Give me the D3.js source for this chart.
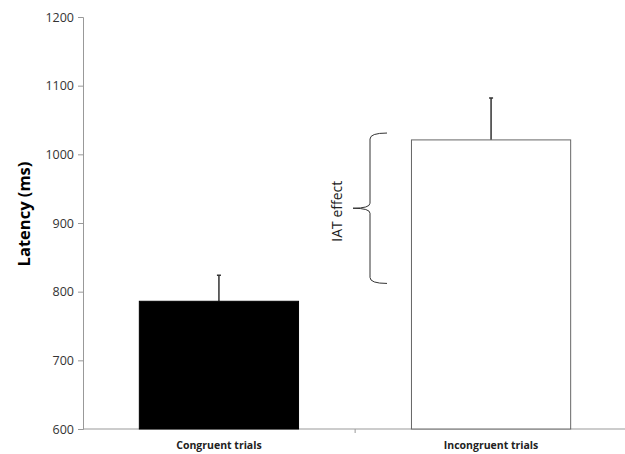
<!doctype html>
<html lang="en">
  <head>
    <meta charset="utf-8">
    <style>
        body { margin: 0; background: white; }
        text { font-family: "Open Sans", sans-serif; }
    </style>
    <title>IAT latency</title>
    <script src="https://d3js.org/d3.v7.min.js"></script>
  </head>
  <body>
    <div id='chart'></div>
    <script type="text/javascript">
    // Data
    var categories = ['Congruent trials', 'Incongruent trials'];
    var latency = [786, 1021];
    var errors = [38, 61];
    var yTicks = [600, 700, 800, 900, 1000, 1100, 1200];
    var braceRange = [812, 1031];

    var svg = d3.select('#chart')
        .append('svg')
        .attr('width', 625)
        .attr('height', 454);

    // Set up scales
    var scale_x = d3.scaleBand().domain(categories).range([83, 627]).paddingInner(0.415).paddingOuter(0.207);
    var scale_y = d3.scaleLinear().domain([600, 1200]).range([429, 17]);

    // y axis
    var yAxis = svg.append('g')
        .attr('transform', 'translate(83,0)')
        .call(d3.axisLeft(scale_y).tickValues(yTicks).tickFormat(d3.format('d')).tickSize(5).tickPadding(4));
    yAxis.select('.domain').attr('stroke', '#999');
    yAxis.selectAll('.tick line').attr('stroke', '#999');
    yAxis.selectAll('.tick text').style('font-size', '12.5px').attr('fill', '#333');

    // x axis: one tick between the categories
    var xAxis = svg.append('g')
        .attr('transform', 'translate(0,429)');
    xAxis.append('line')
        .attr('x1', 83).attr('x2', 627)
        .attr('stroke', '#999');
    xAxis.append('line')
        .attr('x1', scale_x.step() + 83).attr('x2', scale_x.step() + 83)
        .attr('y1', 0).attr('y2', 4)
        .attr('stroke', '#999');
    xAxis.selectAll('.xlab')
        .data(categories)
        .enter().append('text')
        .attr('x', function(d) { return scale_x(d) + scale_x.bandwidth() / 2; })
        .attr('y', 20)
        .attr('text-anchor', 'middle')
        .style('font-size', '10.5px')
        .style('font-weight', 'bold')
        .attr('fill', '#222')
        .text(function(d) { return d; });

    // y label
    svg.append('text')
        .attr('transform', 'translate(30,214)rotate(-90)')
        .attr('text-anchor', 'middle')
        .style('font-size', '16.5px')
        .style('font-weight', 'bold')
        .text('Latency (ms)');

    // error bars (drawn first so the bar top covers the base)
    svg.selectAll('.err')
        .data(categories)
        .enter().append('path')
        .attr('d', function(d, i) {
            var cx = scale_x(d) + scale_x.bandwidth() / 2;
            var top = scale_y(latency[i] + errors[i]);
            return 'M' + cx + ',' + scale_y(latency[i]) + 'V' + top + 'M' + (cx - 2) + ',' + top + 'H' + (cx + 2);
        })
        .attr('stroke', '#333')
        .attr('stroke-width', 1.5)
        .attr('fill', 'none');

    // bars
    svg.selectAll('.bar')
        .data(categories)
        .enter().append('rect')
        .attr('x', function(d) { return scale_x(d); })
        .attr('y', function(d, i) { return scale_y(latency[i]); })
        .attr('width', scale_x.bandwidth())
        .attr('height', function(d, i) { return scale_y(600) - scale_y(latency[i]); })
        .attr('fill', function(d, i) { return i === 0 ? 'black' : 'white'; })
        .attr('stroke', function(d, i) { return i === 0 ? 'black' : '#666'; })
        .attr('stroke-width', 1);

    // IAT effect brace
    var by0 = scale_y(braceRange[1]), by1 = scale_y(braceRange[0]);
    var bm = (by0 + by1) / 2;
    var bx = 370;
    svg.append('path')
        .attr('d', 'M' + (bx + 17) + ',' + by0 +
            'Q' + bx + ',' + by0 + ' ' + bx + ',' + (by0 + 6) +
            'V' + (bm - 5) +
            'Q' + bx + ',' + bm + ' ' + (bx - 17) + ',' + bm +
            'Q' + bx + ',' + bm + ' ' + bx + ',' + (bm + 5) +
            'V' + (by1 - 6) +
            'Q' + bx + ',' + by1 + ' ' + (bx + 17) + ',' + by1)
        .attr('fill', 'none')
        .attr('stroke', '#333')
        .attr('stroke-width', 1);

    svg.append('text')
        .attr('transform', 'translate(342,' + (bm + 3) + ')rotate(-90)')
        .attr('text-anchor', 'middle')
        .style('font-size', '14px')
        .attr('fill', '#222')
        .text('IAT effect');
    </script>
  </body>
</html>
